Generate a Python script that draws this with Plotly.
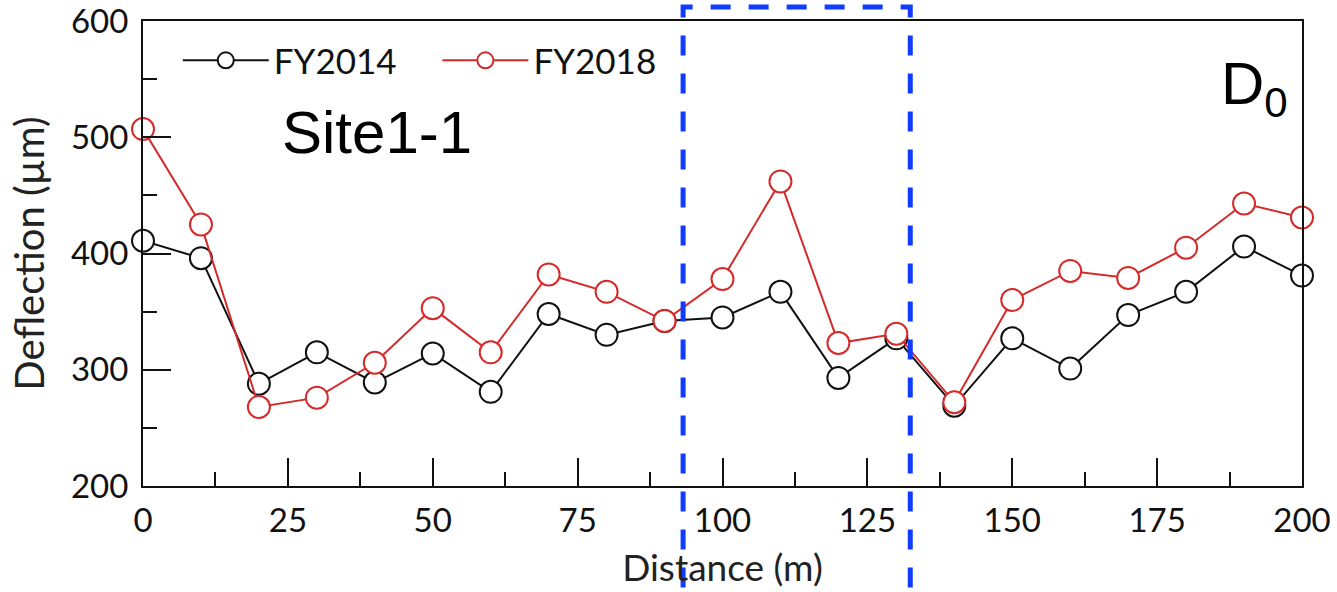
import plotly.graph_objects as go

# Falling-weight deflection D0 along Site1-1
distance_m = [0, 10, 20, 30, 40, 50, 60, 70, 80, 90, 100,
              110, 120, 130, 140, 150, 160, 170, 180, 190, 200]
fy2014 = [411, 396, 288, 315, 289, 314, 281, 348, 330, 342, 345,
          367, 293, 327, 269, 327, 301, 347, 367, 406, 381]
fy2018 = [507, 425, 268, 276, 306, 353, 315, 382, 367, 342, 378,
          462, 323, 331, 272, 360, 385, 379, 405, 443, 431]

x_ticks = [0, 25, 50, 75, 100, 125, 150, 175, 200]
y_ticks = [200, 300, 400, 500, 600]

# section highlighted with the dashed box (m)
box_start, box_end = 93.2, 132.4

tick_font = dict(family="Lato, Carlito, sans-serif", size=33, color="#111")
legend_font = dict(family="Lato, Carlito, sans-serif", size=35, color="#111")

fig = go.Figure()
series = [("FY2014", fy2014, "#111111", "legend"),
          ("FY2018", fy2018, "#d42a2a", "legend2")]
for name, vals, col, leg in series:
    fig.add_trace(go.Scatter(
        x=distance_m, y=vals, name=name, mode="lines+markers",
        line=dict(color=col, width=2),
        marker=dict(symbol="circle", size=22, color="white",
                    line=dict(color=col, width=2)),
        cliponaxis=False, legend=leg,
    ))

axis_common = dict(
    showline=True, linecolor="#111", linewidth=2, mirror=True,
    showgrid=False, zeroline=False, automargin=False,
    ticks="inside", tickcolor="#111", tickwidth=2, ticklen=28,
    tickfont=tick_font, ticklabeloverflow="allow",
)

fig.update_xaxes(
    range=[0, 200], tickvals=x_ticks,
    minor=dict(ticks="inside", ticklen=14, tickwidth=2, tickcolor="#111", dtick=12.5, tick0=0),
    title=dict(text="Distance (m)", standoff=18,
               font=dict(family="Lato, Carlito, sans-serif", size=37, color="#222")),
    ticklabelstandoff=4,
    **axis_common,
)
fig.update_yaxes(
    range=[200, 600], tickvals=y_ticks,
    minor=dict(ticks="inside", ticklen=14, tickwidth=2, tickcolor="#111", dtick=50, tick0=0),
    title=dict(text="Deflection (µm)", standoff=14,
               font=dict(family="Lato, Carlito, sans-serif", size=40, color="#222")),
    ticklabelstandoff=6,
    **axis_common,
)

# dashed box marking the section of interest
fig.add_shape(
    type="path", xref="x", yref="paper",
    path=f"M {box_start},-0.3 L {box_start},1.03 L {box_end},1.03 L {box_end},-0.3",
    line=dict(color="#0f3cff", width=5, dash="20px,18px"),
    layer="above",
)

fig.add_annotation(text="Site1-1", xref="paper", yref="paper", x=0.118, y=0.76,
                   xanchor="left", yanchor="middle", showarrow=False,
                   font=dict(family="Liberation Sans, Arial, sans-serif", size=60, color="black"))
fig.add_annotation(text="D<sub>0</sub>", xref="paper", yref="paper", x=0.99, y=0.855,
                   xanchor="right", yanchor="middle", showarrow=False,
                   font=dict(family="Liberation Sans, Arial, sans-serif", size=60, color="black"))

leg_common = dict(orientation="h", yanchor="middle", xanchor="left",
                  bgcolor="rgba(0,0,0,0)", itemwidth=86, font=legend_font)

fig.update_layout(
    width=1337, height=592,
    margin=dict(l=143, r=35, t=21, b=106),
    paper_bgcolor="white", plot_bgcolor="white",
    showlegend=True,
    legend=dict(x=0.03, y=0.915, **leg_common),
    legend2=dict(x=0.254, y=0.915, **leg_common),
)

fig.write_html("out.html")
